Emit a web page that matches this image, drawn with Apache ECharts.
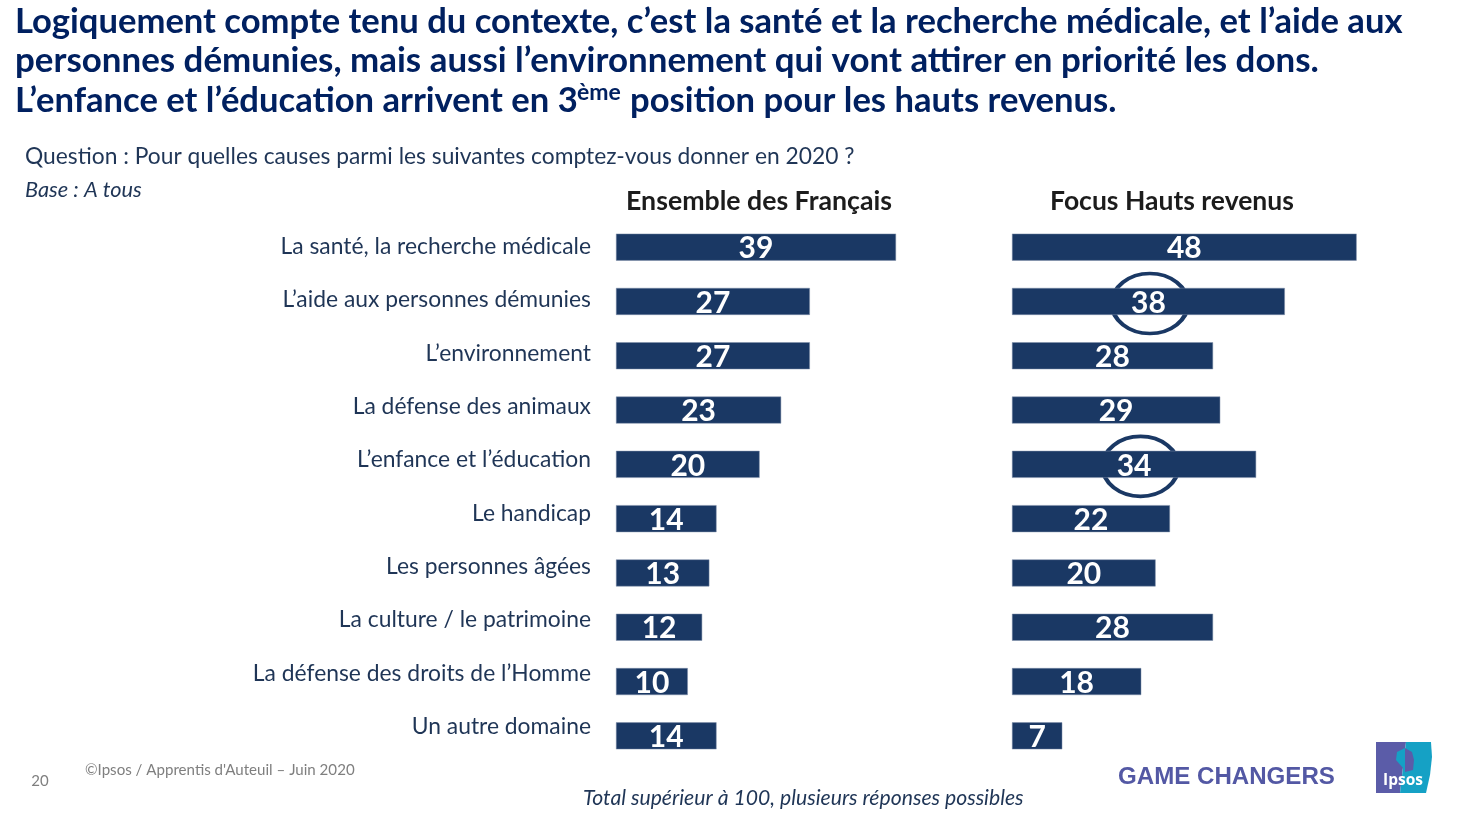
<!DOCTYPE html>
<html>
<head>
<meta charset="utf-8">
<title>Causes des dons 2020</title>
<style>
  html, body { margin: 0; padding: 0; background: #fff; }
  #chart { width: 1461px; height: 816px; }
</style>
<script src="https://cdn.jsdelivr.net/npm/echarts@6/dist/echarts.min.js"></script>
</head>
<body>
<div id="chart"></div>
<script>
var categories = ['La santé, la recherche médicale', 'L’aide aux personnes démunies', 'L’environnement', 'La défense des animaux', 'L’enfance et l’éducation', 'Le handicap', 'Les personnes âgées', 'La culture / le patrimoine', 'La défense des droits de l’Homme', 'Un autre domaine']
var ensemble = [39, 27, 27, 23, 20, 14, 13, 12, 10, 14]
var hautsRevenus = [48, 38, 28, 29, 34, 22, 20, 28, 18, 7]
// the two rings around 38 and 34: [x value, row]
var rings = [[19.2, 1], [17.9, 4]]

var NAVY = '#1a3864'
var FONT = 'Lato'

function barSeries(name, values, index) {
    return {
        name: name,
        type: 'bar',
        xAxisIndex: index,
        yAxisIndex: index,
        data: values,
        barWidth: 27,
        itemStyle: { color: NAVY, borderColor: '#7f8fa8', borderWidth: 0.5 },
        label: {
            show: true,
            position: 'inside',
            offset: [0, 1.5],
            color: '#fff',
            fontFamily: FONT,
            fontWeight: 'bold',
            fontSize: 30
        },
        z: 2
    }
}

function text(x, y, str, style) {
    return {
        type: 'text',
        x: x,
        y: y,
        style: Object.assign({ text: str, fontFamily: FONT, verticalAlign: 'middle' }, style)
    }
}

var titleStyle = { fill: '#002060', fontSize: 34.6, fontWeight: 'bold' }
var titleStyle2 = { fill: '#002060', fontSize: 34.9, fontWeight: 'bold' }

var chart = echarts.init(document.getElementById('chart'))
chart.setOption({
    animation: false,
    backgroundColor: '#fff',
    grid: [
        { left: 616, top: 220, width: 359, height: 543 },
        { left: 1012, top: 220, width: 359, height: 543 },
        // the row labels sit on a slightly tighter pitch than the bars
        { left: 200, top: 219.8, width: 391, height: 533.4 }
    ],
    xAxis: [
        { gridIndex: 0, type: 'value', min: 0, max: 50, show: false },
        { gridIndex: 1, type: 'value', min: 0, max: 50, show: false },
        { gridIndex: 2, type: 'value', min: 0, max: 50, show: false }
    ],
    yAxis: [
        { gridIndex: 0, type: 'category', inverse: true, data: categories, show: false },
        { gridIndex: 1, type: 'category', inverse: true, data: categories, show: false },
        {
            gridIndex: 2,
            type: 'category',
            inverse: true,
            position: 'right',
            data: categories,
            axisLine: { show: false },
            axisTick: { show: false },
            axisLabel: {
                inside: true,
                align: 'right',
                margin: 0,
                color: '#1f3556',
                fontFamily: FONT,
                fontSize: 22.85
            }
        }
    ],
    series: [
        barSeries('Ensemble des Français', ensemble, 0),
        barSeries('Focus Hauts revenus', hautsRevenus, 1),
        {
            type: 'scatter',
            xAxisIndex: 1,
            yAxisIndex: 1,
            data: rings,
            symbol: 'circle',
            symbolSize: [76, 60],
            symbolOffset: [0, 2],
            itemStyle: { color: 'rgba(0,0,0,0)', borderColor: NAVY, borderWidth: 4, opacity: 1 },
            silent: true,
            z: 1
        }
    ],
    graphic: [
        text(15, 22, 'Logiquement compte tenu du contexte, c’est la santé et la recherche médicale, et l’aide aux', titleStyle),
        text(15, 61, 'personnes démunies, mais aussi l’environnement qui vont attirer en priorité les dons.', titleStyle2),
        text(15, 101, 'L’enfance et l’éducation arrivent en 3', titleStyle),
        text(577, 93, 'ème', { fill: '#002060', fontSize: 23, fontWeight: 'bold' }),
        text(630, 101, 'position pour les hauts revenus.', titleStyle),
        text(25, 157, 'Question : Pour quelles causes parmi les suivantes comptez-vous donner en 2020 ?', { fill: '#1f3556', fontSize: 22.8 }),
        text(25, 190, 'Base : A tous', { fill: '#1f3556', fontSize: 21.8, fontStyle: 'italic' }),
        text(759, 201, 'Ensemble des Français', { fill: '#1c1c1c', fontSize: 26.7, fontWeight: 'bold', align: 'center' }),
        text(1172, 201, 'Focus Hauts revenus', { fill: '#1c1c1c', fontSize: 26.5, fontWeight: 'bold', align: 'center' }),
        text(40, 781, '20', { fill: '#7f7f7f', fontSize: 15, align: 'center' }),
        text(85, 770, '©Ipsos / Apprentis d\'Auteuil – Juin 2020', { fill: '#7f7f7f', fontSize: 15.1 }),
        text(583, 798, 'Total supérieur à 100, plusieurs réponses possibles', { fill: '#1f3556', fontSize: 21.2, fontStyle: 'italic' }),
        text(1118, 777, 'GAME CHANGERS', { fill: '#5358a4', fontSize: 24.1, fontWeight: 'bold', fontFamily: 'Liberation Sans' }),
        // Ipsos logo
        { type: 'polygon', shape: { points: [[1376, 742], [1406, 742], [1400, 793], [1376, 793]] }, style: { fill: '#5b5ca8' } },
        { type: 'polygon', shape: { points: [[1406, 742], [1431, 742], [1432, 757], [1430, 775], [1426, 793], [1400, 793]] }, style: { fill: '#15a1c5' } },
        { type: 'polygon', shape: { points: [[1405, 748], [1397, 752], [1396, 760], [1403, 768], [1403, 772], [1405, 772]] }, style: { fill: '#15a1c5' } },
        { type: 'polygon', shape: { points: [[1405, 748], [1412, 752], [1414, 760], [1413, 770], [1405, 772]] }, style: { fill: '#5b5ca8' } },
        text(1403, 781, 'Ipsos', { fill: '#fff', fontSize: 15.5, fontWeight: 'bold', align: 'center', fontFamily: 'Open Sans' })
    ]
})
</script>
</body>
</html>
